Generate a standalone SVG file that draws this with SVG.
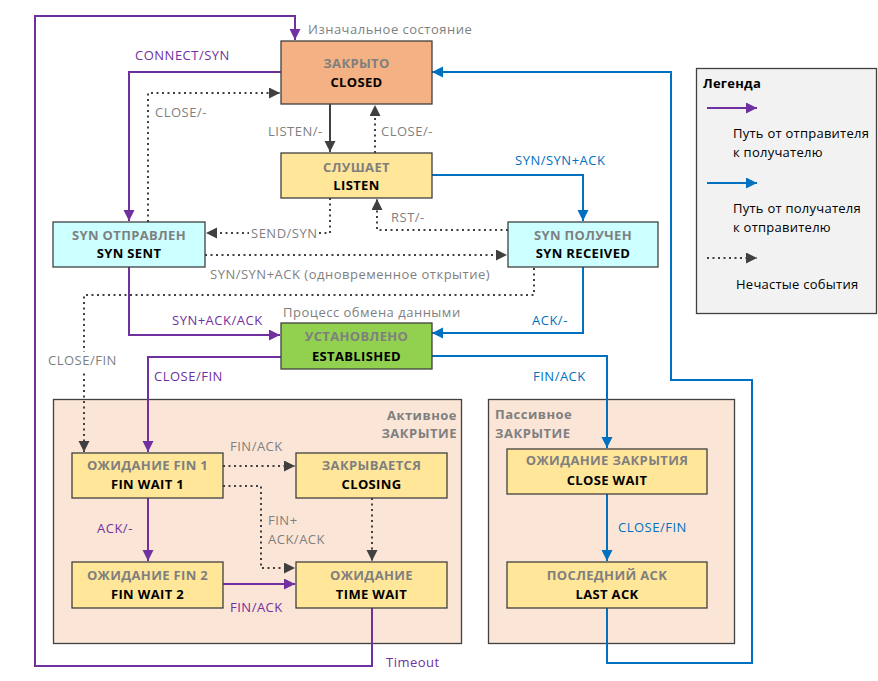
<svg xmlns="http://www.w3.org/2000/svg" width="878" height="681" viewBox="0 0 878 681">
<defs>
<style>
text{font-family:"Open Sans","Noto Sans","DejaVu Sans",sans-serif;font-size:13px;letter-spacing:0.5px}
.g{fill:#7F7F7F}.p{fill:#7030A0}.b{fill:#0070C0}.k{fill:#000;letter-spacing:0.25px}
.n1{font-weight:bold;fill:#7F7F7F;text-anchor:middle;letter-spacing:0.35px}
.n2{font-weight:bold;fill:#000;text-anchor:middle;letter-spacing:0.35px}
.box{stroke:#404040;stroke-width:1.3}
.grp{fill:#FBE5D6;stroke:#404040;stroke-width:1.3}
.sp{fill:none;stroke:#7030A0;stroke-width:2;marker-end:url(#ap)}
.sb{fill:none;stroke:#0070C0;stroke-width:2;marker-end:url(#ab)}
.sk{fill:none;stroke:#404040;stroke-width:2;marker-end:url(#ak)}
.dk{fill:none;stroke:#404040;stroke-width:2;stroke-dasharray:2 3.5;marker-end:url(#ak)}
</style>
<marker id="ap" markerUnits="userSpaceOnUse" markerWidth="12" markerHeight="12" refX="11" refY="5.5" orient="auto"><path d="M0,0 L11,5.5 L0,11 z" fill="#7030A0"/></marker>
<marker id="ab" markerUnits="userSpaceOnUse" markerWidth="12" markerHeight="12" refX="11" refY="5.5" orient="auto"><path d="M0,0 L11,5.5 L0,11 z" fill="#0070C0"/></marker>
<marker id="ak" markerUnits="userSpaceOnUse" markerWidth="12" markerHeight="12" refX="11" refY="5.5" orient="auto"><path d="M0,0 L11,5.5 L0,11 z" fill="#404040"/></marker>
</defs>
<rect width="878" height="681" fill="#fff"/>

<g id="group-active">
<rect class="grp" x="53.5" y="399.5" width="408" height="244"/>
<text x="457" y="419.5" text-anchor="end" font-weight="bold" class="g" letter-spacing="0.3">Активное</text>
<text x="457" y="438" text-anchor="end" font-weight="bold" class="g" letter-spacing="0.3">ЗАКРЫТИЕ</text>
</g>
<g id="group-passive">
<rect class="grp" x="488.5" y="399.5" width="246" height="244"/>
<text x="495" y="419" font-weight="bold" class="g" letter-spacing="0.3">Пассивное</text>
<text x="495" y="438" font-weight="bold" class="g" letter-spacing="0.3">ЗАКРЫТИЕ</text>
</g>

<g id="connectors">
<path class="sp" d="M281,72 H129 V221"/>
<path class="sp" d="M129,267 V335 H280"/>
<path class="sp" d="M281,357 H148 V452"/>
<path class="sp" d="M148,498 V561"/>
<path class="sp" d="M223,584 H295"/>
<path class="sp" d="M372,608 V666 H35 V16 H295 V40"/>
<path class="sb" d="M431,175 H583 V221"/>
<path class="sb" d="M583,267 V333 H432"/>
<path class="sb" d="M431,356 H607 V448"/>
<path class="sb" d="M607,494 V561"/>
<path class="sb" d="M607,608 V663 H752 V380 H671 V72 H432"/>
<path class="sk" d="M330,104 V152"/>
<path class="dk" d="M375,153 V105"/>
<path class="dk" d="M148,222 V93 H280"/>
<path class="dk" d="M330,198 V233 H206"/>
<path class="dk" d="M508,230 H377 V199"/>
<path class="dk" d="M205,255 H507"/>
<path class="dk" d="M534,268 V295 H84 V452"/>
<path class="dk" d="M223,466 H295"/>
<path class="dk" d="M223,486 H261 V568 H295"/>
<path class="dk" d="M372,498 V561"/>
</g>

<g id="labels">
<text x="308" y="34" class="g">Изначальное состояние</text>
<text x="135" y="59.5" class="p">CONNECT/SYN</text>
<text x="155" y="116.5" class="g">CLOSE/-</text>
<text x="268" y="135.5" class="g">LISTEN/-</text>
<text x="381" y="135.5" class="g">CLOSE/-</text>
<text x="515" y="164.5" class="b">SYN/SYN+ACK</text>
<rect x="249" y="224" width="70" height="18" fill="#fff"/>
<text x="251" y="237.5" class="g">SEND/SYN</text>
<text x="391" y="221.5" class="g">RST/-</text>
<text x="210" y="279" class="g">SYN/SYN+ACK (одновременное открытие)</text>
<text x="283" y="316.5" class="g">Процесс обмена данными</text>
<text x="172" y="324.5" class="p">SYN+ACK/ACK</text>
<text x="532" y="324.5" class="b">ACK/-</text>
<rect x="46" y="352" width="76" height="18" fill="#fff"/>
<text x="48" y="365" class="g">CLOSE/FIN</text>
<text x="154" y="380.5" class="p">CLOSE/FIN</text>
<text x="533" y="380.5" class="b">FIN/ACK</text>
<text x="230" y="450.5" class="g">FIN/ACK</text>
<text x="97" y="532.5" class="p">ACK/-</text>
<text x="268" y="524.5" class="g">FIN+</text>
<text x="268" y="543.5" class="g">ACK/ACK</text>
<text x="618" y="531.5" class="b">CLOSE/FIN</text>
<text x="230" y="611.5" class="p">FIN/ACK</text>
<text x="386" y="667" class="p">Timeout</text>
</g>

<g id="closed">
<rect class="box" x="281" y="41" width="151" height="63" fill="#F4B183"/>
<text x="356.5" y="67.5" class="n1">ЗАКРЫТО</text>
<text x="356.5" y="86.5" class="n2">CLOSED</text>
</g>
<g id="listen">
<rect class="box" x="281" y="153" width="151" height="45" fill="#FFE699"/>
<text x="356.5" y="171.5" class="n1">СЛУШАЕТ</text>
<text x="356.5" y="190" class="n2">LISTEN</text>
</g>
<g id="syn-sent">
<rect class="box" x="53" y="222" width="152" height="45" fill="#CCFFFF"/>
<text x="129" y="239.5" class="n1">SYN ОТПРАВЛЕН</text>
<text x="129" y="258" class="n2">SYN SENT</text>
</g>
<g id="syn-received">
<rect class="box" x="508" y="222" width="150" height="45" fill="#CCFFFF"/>
<text x="583" y="239.5" class="n1">SYN ПОЛУЧЕН</text>
<text x="583" y="258" class="n2">SYN RECEIVED</text>
</g>
<g id="established">
<rect class="box" x="281" y="323" width="151" height="46" fill="#92D050"/>
<text x="356.5" y="341" class="n1">УСТАНОВЛЕНО</text>
<text x="356.5" y="360.5" class="n2">ESTABLISHED</text>
</g>
<g id="fin-wait-1">
<rect class="box" x="72" y="453" width="151" height="45" fill="#FFE699"/>
<text x="147.5" y="469.5" class="n1">ОЖИДАНИЕ FIN 1</text>
<text x="147.5" y="488.5" class="n2">FIN WAIT 1</text>
</g>
<g id="closing">
<rect class="box" x="296" y="453" width="151" height="45" fill="#FFE699"/>
<text x="371.5" y="469.5" class="n1">ЗАКРЫВАЕТСЯ</text>
<text x="371.5" y="488.5" class="n2">CLOSING</text>
</g>
<g id="fin-wait-2">
<rect class="box" x="72" y="562" width="151" height="46" fill="#FFE699"/>
<text x="147.5" y="579.5" class="n1">ОЖИДАНИЕ FIN 2</text>
<text x="147.5" y="598.5" class="n2">FIN WAIT 2</text>
</g>
<g id="time-wait">
<rect class="box" x="296" y="562" width="151" height="46" fill="#FFE699"/>
<text x="371.5" y="579.5" class="n1">ОЖИДАНИЕ</text>
<text x="371.5" y="598.5" class="n2">TIME WAIT</text>
</g>
<g id="close-wait">
<rect class="box" x="507" y="449" width="200" height="45" fill="#FFE699"/>
<text x="607" y="465" class="n1">ОЖИДАНИЕ ЗАКРЫТИЯ</text>
<text x="607" y="485" class="n2">CLOSE WAIT</text>
</g>
<g id="last-ack">
<rect class="box" x="507" y="562" width="200" height="46" fill="#FFE699"/>
<text x="607" y="579.5" class="n1">ПОСЛЕДНИЙ ACK</text>
<text x="607" y="598.5" class="n2">LAST ACK</text>
</g>

<g id="legend">
<rect x="696.5" y="68.5" width="180" height="245" fill="#F2F2F2" stroke="#404040" stroke-width="1.3"/>
<text x="703" y="88" font-weight="bold" class="k">Легенда</text>
<path class="sp" d="M707,108 H757"/>
<text x="733" y="138" class="k">Путь от отправителя</text>
<text x="733" y="157" class="k">к получателю</text>
<path class="sb" d="M707,183 H757"/>
<text x="733" y="213" class="k">Путь от получателя</text>
<text x="733" y="232" class="k">к отправителю</text>
<path class="dk" d="M707,258 H757"/>
<text x="736" y="289" class="k">Нечастые события</text>
</g>
</svg>
